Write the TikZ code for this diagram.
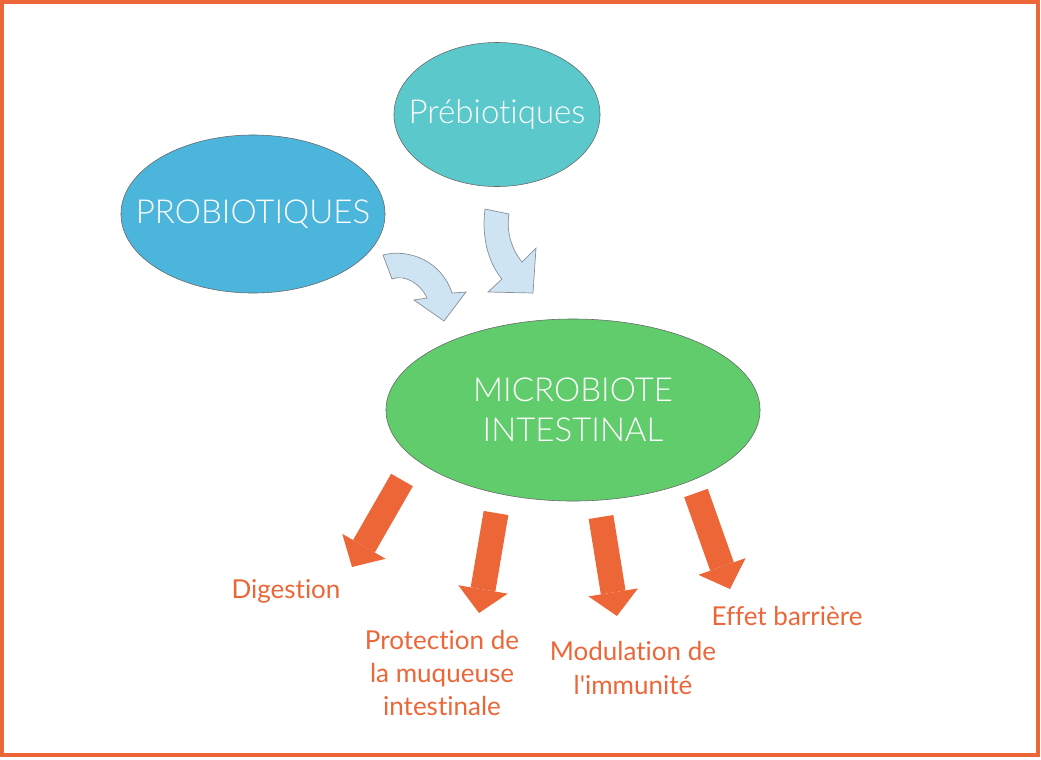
\documentclass[tikz,border=0pt]{standalone}
\usepackage{fontspec}
\setmainfont{Lato}[Ligatures=NoCommon]
\IfFontExistsTF{Lato Light}
  {\newfontfamily\bubblefont{Lato Light}[Ligatures=NoCommon]}
  {\newfontfamily\bubblefont{Lato}[Ligatures=NoCommon]}
\usepackage{tikz}
\usepackage{xcolor}
\usetikzlibrary{arrows.meta,positioning,shapes.geometric}

\definecolor{frameorange}{RGB}{236,102,56}
\definecolor{probioblue}{RGB}{76,181,220}
\definecolor{prebioteal}{RGB}{91,201,203}
\definecolor{microgreen}{RGB}{96,204,107}
\definecolor{curvefill}{RGB}{207,228,243}
\definecolor{curveline}{RGB}{135,143,152}

\begin{document}
\begin{tikzpicture}[x=0.025cm, y=-0.025cm,
  bubble/.style={ellipse, draw=gray!80!black, thin, inner sep=0pt},
  bubbletext/.style={text=white, font=\bubblefont\fontsize{23.5}{28.5}\selectfont,
    align=center, inner sep=0pt},
  curvearrow/.style={fill=curvefill, draw=curveline, line width=0.5pt, line join=miter},
  effectarrow/.style={draw=frameorange, line width=17.8pt,
    -{Triangle[width=35.6pt, length=17pt, line width=0pt]}},
  effecttext/.style={text=frameorange, font=\fontsize{18.5}{23.8}\selectfont, align=center}]
  \useasboundingbox (0,0) rectangle (1041,759);
  \draw[frameorange, line width=3pt] (2,2) rectangle (1038,755);

  % the three bubbles
  \node[bubble, fill=probioblue, minimum width=6.6cm, minimum height=3.95cm,
      label={[bubbletext]center:PROBIOTIQUES}] (probio) at (253,214) {};
  \node[bubble, fill=prebioteal, minimum width=5.15cm, minimum height=3.6cm,
      label={[bubbletext]center:Prébiotiques}] (prebio) at (497,114.5) {};
  \node[bubble, fill=microgreen, minimum width=9.35cm, minimum height=4.55cm,
      label={[bubbletext]center:MICROBIOTE\\INTESTINAL}] (micro) at (573,410) {};

  % curved arrows into the microbiote
  \draw[curvearrow] (383,255) .. controls (410,248) and (442,262) .. (452,293)
      -- (466,292) -- (444,321) -- (414,300) -- (427,298)
      .. controls (421,284) and (405,274) .. (392,279) -- cycle;
  \draw[curvearrow] (485,209) .. controls (481,240) and (490,265) .. (502,279)
      -- (488,292) -- (533,293) -- (536,248) -- (522,262)
      .. controls (512,250) and (506,232) .. (509,214) -- cycle;

  % effects
  \coordinate (digS) at (402,480);  \coordinate (digE) at (352,567);
  \coordinate (proS) at (496,513);  \coordinate (proE) at (479,613);
  \coordinate (modS) at (601,517);  \coordinate (modE) at (617,616);
  \coordinate (effS) at (696,493);  \coordinate (effE) at (730,589);
  \draw[effectarrow] (digS) -- (digE);
  \draw[effectarrow] (proS) -- (proE);
  \draw[effectarrow] (modS) -- (modE);
  \draw[effectarrow] (effS) -- (effE);

  \node[effecttext] (digestion) at (286,591) {Digestion};
  \node[effecttext] (protection) at (442,673) {Protection de\\la muqueuse\\intestinale};
  \node[effecttext] (modulation) at (633,668) {Modulation de\\l\textquotesingle immunité};
  \node[effecttext] (barriere) at (787,616) {Effet barrière};
\end{tikzpicture}
\end{document}
